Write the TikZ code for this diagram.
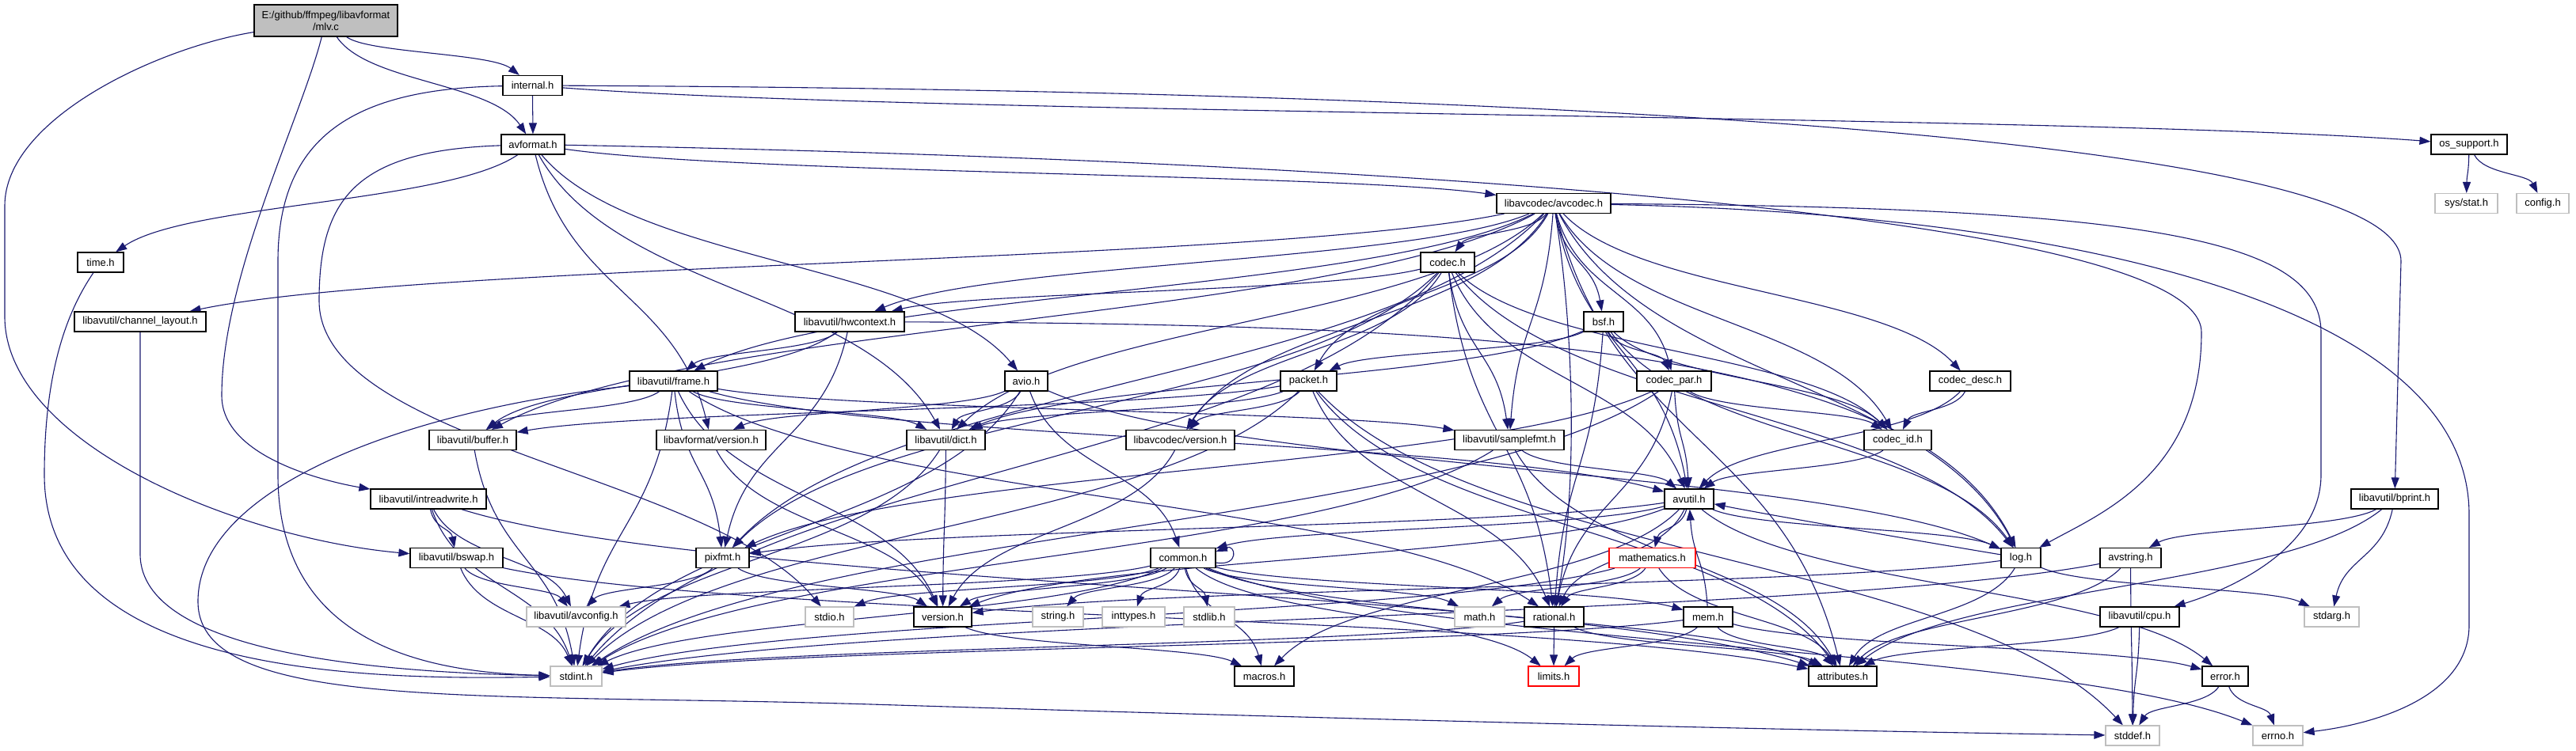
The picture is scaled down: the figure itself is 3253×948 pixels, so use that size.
\documentclass[tikz,border=0pt]{standalone}
\usepackage{fontspec}
\setmainfont{Liberation Sans}
\usetikzlibrary{arrows.meta,calc}
\definecolor{navy}{HTML}{191970}
\definecolor{grayfill}{HTML}{BFBFBF}
\definecolor{extgray}{HTML}{BFBFBF}
\newcommand\fnt{\fontsize{13}{15}\selectfont}
\pgfdeclarelayer{bg}
\pgfsetlayers{bg,main}
\tikzset{
  nd/.style={draw=black, fill=white, line width=1.2pt, minimum height=25pt, inner sep=0pt, font=\fnt, text=black},
  ext/.style={nd, draw=extgray},
  trunc/.style={nd, draw=red},
  edge/.style={draw=navy, line width=1.1pt, -{Triangle[length=14pt,width=10pt]}}
}
\newcommand\ed[3][]{\draw[edge,#1] let \p1=(#2.center), \p2=(#3.center) in (#2) .. controls ({0.8*\x1+0.2*\x2},{0.5*\y1+0.5*\y2}) and ({0.2*\x1+0.8*\x2},{0.5*\y1+0.5*\y2}) .. (#3);}
\begin{document}
\begin{tikzpicture}[x=1pt,y=-1pt]
\useasboundingbox (0,0) rectangle (3253,948);
% nodes
\node[nd, fill=grayfill, minimum width=181pt, minimum height=40pt, align=center] (mlv) at (411.5,26) {E:/github/ffmpeg/libavformat\\/mlv.c};
\node[nd, minimum width=75pt] (intern) at (672.5,108) {internal.h};
\node[nd, minimum width=80pt] (avf) at (673,182.5) {avformat.h};
\node[nd, minimum width=96pt] (oss) at (3118,182.5) {os\_support.h};
\node[nd, minimum width=144pt] (avc) at (1962,257) {libavcodec/avcodec.h};
\node[ext, minimum width=79pt] (sst) at (3114.5,257) {sys/stat.h};
\node[ext, minimum width=66pt] (cfg) at (3211,257) {config.h};
\node[nd, minimum width=58pt] (timeh) at (127,331.5) {time.h};
\node[nd, minimum width=68pt] (codec) at (1828,331.5) {codec.h};
\node[nd, minimum width=166pt] (chl) at (177,406.5) {libavutil/channel\_layout.h};
\node[nd, minimum width=138pt] (hwc) at (1073,406.5) {libavutil/hwcontext.h};
\node[nd, minimum width=50pt] (bsf) at (2025,406.5) {bsf.h};
\node[nd, minimum width=111pt] (frame) at (850.5,481.5) {libavutil/frame.h};
\node[nd, minimum width=54pt] (avio) at (1296,481.5) {avio.h};
\node[nd, minimum width=71pt] (pkt) at (1652.5,481.5) {packet.h};
\node[nd, minimum width=94pt] (cpar) at (2114,481.5) {codec\_par.h};
\node[nd, minimum width=102pt] (cdesc) at (2488,481.5) {codec\_desc.h};
\node[nd, minimum width=110pt] (buf) at (597,556) {libavutil/buffer.h};
\node[nd, minimum width=138pt] (lfver) at (898,556) {libavformat/version.h};
\node[nd, minimum width=99pt] (dict) at (1194.5,556) {libavutil/dict.h};
\node[nd, minimum width=137pt] (lcver) at (1490.5,556) {libavcodec/version.h};
\node[nd, minimum width=138pt] (sfmt) at (1906,556) {libavutil/samplefmt.h};
\node[nd, minimum width=85pt] (cid) at (2396.5,556) {codec\_id.h};
\node[nd, minimum width=146pt] (irw) at (541,630.5) {libavutil/intreadwrite.h};
\node[nd, minimum width=62pt] (avu) at (2133,630.5) {avutil.h};
\node[nd, minimum width=110pt] (bpr) at (3024,630.5) {libavutil/bprint.h};
\node[nd, minimum width=117pt] (bsw) at (576.5,705) {libavutil/bswap.h};
\node[nd, minimum width=67pt] (pix) at (912.5,705) {pixfmt.h};
\node[nd, minimum width=82pt] (com) at (1494,705) {common.h};
\node[trunc, minimum width=109pt] (math) at (2086.5,705) {mathematics.h};
\node[nd, minimum width=50pt] (log) at (2552,705) {log.h};
\node[nd, minimum width=77pt] (avs) at (2690.5,705) {avstring.h};
\node[ext, minimum width=125pt] (avcfg) at (727.5,779.5) {libavutil/avconfig.h};
\node[ext, minimum width=61pt] (stdio) at (1047.5,779.5) {stdio.h};
\node[nd, minimum width=73pt] (ver) at (1190.5,779.5) {version.h};
\node[ext, minimum width=64pt] (str) at (1336,779.5) {string.h};
\node[ext, minimum width=79pt] (intt) at (1431.5,779.5) {inttypes.h};
\node[ext, minimum width=64pt] (stdl) at (1527,779.5) {stdlib.h};
\node[ext, minimum width=63pt] (mathh) at (1868.5,779.5) {math.h};
\node[nd, minimum width=75pt] (rat) at (1962.5,779.5) {rational.h};
\node[nd, minimum width=62pt] (mem) at (2157,779.5) {mem.h};
\node[nd, minimum width=100pt] (cpu) at (2702,779.5) {libavutil/cpu.h};
\node[ext, minimum width=69pt] (starg) at (2944.5,779.5) {stdarg.h};
\node[ext, minimum width=65pt] (sint) at (727.5,854.5) {stdint.h};
\node[nd, minimum width=75pt] (mac) at (1596.5,854.5) {macros.h};
\node[trunc, minimum width=64pt] (lim) at (1962,854.5) {limits.h};
\node[nd, minimum width=86pt] (attr) at (2327,854.5) {attributes.h};
\node[nd, minimum width=58pt] (err) at (2810,854.5) {error.h};
\node[ext, minimum width=68pt] (sdef) at (2693,929.5) {stddef.h};
\node[ext, minimum width=63pt] (eno) at (2876.5,929.5) {errno.h};
% edges
\begin{pgfonlayer}{bg}
\fill[white] (0,0) rectangle (3253,948);
\ed{mlv}{intern}
\ed{mlv}{avf}
\draw[edge] (mlv) .. controls (200,60) and (6,150) .. (6,260) -- (6,400) .. controls (6,560) and (300,680) .. (bsw);
\draw[edge] (mlv) .. controls (380,150) and (280,350) .. (280,500) .. controls (280,580) and (420,610) .. (irw);
\ed{intern}{avf}
\ed{intern}{oss}
\draw[edge] (intern) .. controls (450,112) and (351,170) .. (351,330) -- (351,600) .. controls (351,820) and (550,850) .. (sint);
\draw[edge] (intern) .. controls (1600,112) and (3032,150) .. (3032,330) -- (bpr);
\ed{avf}{timeh}
\ed{avf}{avc}
\ed{avf}{dict}
\ed{avf}{avio}
\ed{avf}{lfver}
\draw[edge] (avf) .. controls (1600,200) and (2780,260) .. (2780,420) .. controls (2780,600) and (2650,650) .. (log);
\draw[edge] (avf) .. controls (450,190) and (403,250) .. (403,380) .. controls (403,560) and (900,600) .. (stdio);
\ed{oss}{sst}
\ed{oss}{cfg}
\ed{avc}{sfmt}
\ed{avc}{attr}
\ed{avc}{avu}
\ed{avc}{buf}
\ed{avc}{chl}
\ed{avc}{dict}
\ed{avc}{frame}
\ed{avc}{hwc}
\ed{avc}{log}
\ed{avc}{pix}
\ed{avc}{bsf}
\ed{avc}{codec}
\ed{avc}{cdesc}
\ed{avc}{cpar}
\ed{avc}{cid}
\ed{avc}{pkt}
\ed{avc}{lcver}
\draw[edge] (avc) .. controls (1985,400) and (1995,600) .. (rat);
\draw[edge] (avc) .. controls (2600,270) and (3118,380) .. (3118,650) -- (3118,790) .. controls (3118,880) and (3000,915) .. (eno);
\draw[edge] (avc) .. controls (2700,262) and (2931,300) .. (2931,420) -- (2931,600) .. controls (2931,700) and (2800,750) .. (cpu);
\ed{codec}{sint}
\ed{codec}{avu}
\ed{codec}{hwc}
\ed{codec}{log}
\ed{codec}{pix}
\ed{codec}{rat}
\ed{codec}{sfmt}
\ed{codec}{cid}
\ed{codec}{lcver}
\ed{bsf}{dict}
\ed{bsf}{log}
\ed{bsf}{rat}
\ed{bsf}{cid}
\ed{bsf}{cpar}
\ed{bsf}{pkt}
\ed{cdesc}{avu}
\ed{cdesc}{cid}
\ed{cpar}{sint}
\ed{cpar}{avu}
\ed{cpar}{rat}
\ed{cpar}{pix}
\ed{cpar}{cid}
\ed{cid}{avu}
\ed{pkt}{sdef}
\ed{pkt}{sint}
\ed{pkt}{attr}
\ed{pkt}{buf}
\ed{pkt}{dict}
\ed{pkt}{rat}
\ed{pkt}{lcver}
\ed{lcver}{ver}
\ed{avio}{sint}
\ed{avio}{com}
\ed{avio}{dict}
\ed{avio}{log}
\ed{avio}{lfver}
\ed{lfver}{ver}
\draw[edge] (chl) -- (177,700) .. controls (177,830) and (500,850) .. (sint);
\draw[edge] (timeh) .. controls (80,400) and (56,480) .. (56,600) .. controls (56,850) and (450,860) .. (sint);
\ed{hwc}{buf}
\ed{hwc}{frame}
\draw[edge] (hwc) .. controls (1900,410) and (2420,440) .. (log);
\ed{hwc}{pix}
\draw[edge] (frame) .. controls (500,520) and (250,620) .. (250,760) .. controls (250,900) and (600,875) .. (1100,890) .. controls (1900,915) and (2400,925) .. (sdef);
\ed{frame}{sint}
\ed{frame}{avu}
\ed{frame}{buf}
\ed{frame}{dict}
\ed{frame}{rat}
\ed{frame}{sfmt}
\ed{frame}{pix}
\ed{frame}{ver}
\ed{buf}{sint}
\ed{dict}{sint}
\ed{dict}{ver}
\ed{sfmt}{sint}
\ed{sfmt}{avu}
\ed{sfmt}{attr}
\ed{avu}{com}
\ed{avu}{err}
\ed{avu}{ver}
\ed{avu}{mac}
\ed{avu}{math}
\ed{avu}{rat}
\ed{avu}{log}
\ed{avu}{pix}
\ed{com}{eno}
\ed{com}{intt}
\ed{com}{lim}
\ed{com}{mathh}
\ed{com}{sint}
\ed{com}{stdio}
\ed{com}{stdl}
\ed{com}{str}
\ed{com}{attr}
\ed{com}{mac}
\ed{com}{ver}
\ed{com}{avcfg}
\ed{com}{mem}
\draw[edge] ([yshift=-6pt]com.east) .. controls +(30pt,-5pt) and +(25pt,10pt) .. ([yshift=8pt]com.east);
\ed{math}{sint}
\ed{math}{mathh}
\ed{math}{attr}
\ed{math}{rat}
\ed{rat}{sint}
\ed{rat}{lim}
\ed{rat}{attr}
\ed{log}{starg}
\draw[edge] (log) .. controls (2460,690) and (2230,650) .. (avu);
\ed{log}{attr}
\ed{log}{ver}
\ed{mem}{lim}
\ed{mem}{sint}
\ed{mem}{attr}
\ed{mem}{err}
\ed{mem}{avu}
\ed{err}{eno}
\ed{err}{sdef}
\ed{pix}{avcfg}
\ed{pix}{ver}
\ed{ver}{mac}
\ed{irw}{sint}
\ed{irw}{avcfg}
\ed{irw}{attr}
\ed{irw}{bsw}
\ed{bsw}{sint}
\ed{bsw}{avcfg}
\ed{bsw}{attr}
\ed{bpr}{starg}
\ed{bpr}{attr}
\ed{bpr}{avs}
\ed{avs}{sdef}
\ed{avs}{sint}
\ed{avs}{attr}
\ed{cpu}{sdef}
\ed{cpu}{attr}
\end{pgfonlayer}
\end{tikzpicture}
\end{document}
